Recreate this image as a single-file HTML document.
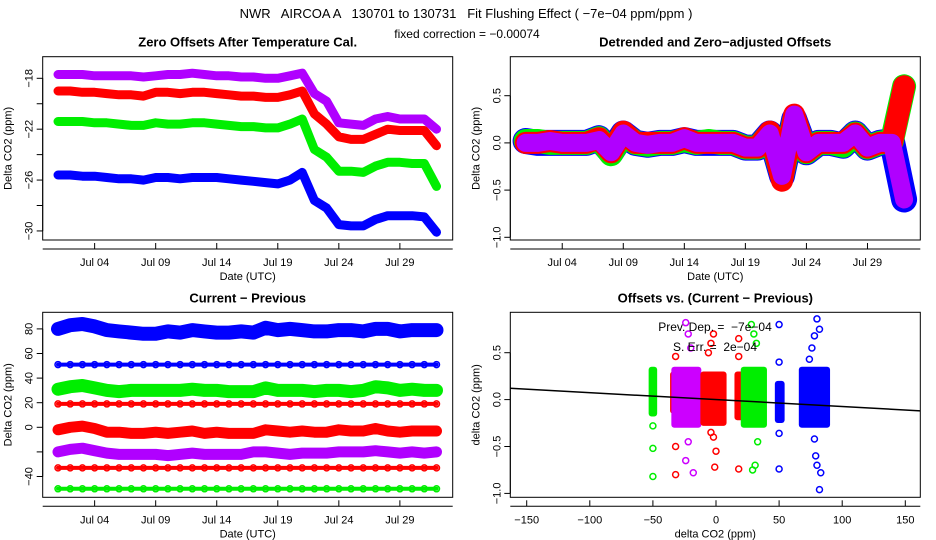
<!DOCTYPE html>
<html><head><meta charset="utf-8">
<style>
html,body{margin:0;padding:0;background:#fff;}
svg{display:block;font-family:"Liberation Sans",Arial,sans-serif;}
svg text{white-space:pre;}
</style></head>
<body>
<svg id="chart" width="936" height="540" viewBox="0 0 936 540">
<text x="466" y="18" font-size="13" text-anchor="middle" xml:space="preserve">NWR   AIRCOA A   130701 to 130731   Fit Flushing Effect ( −7e−04 ppm/ppm )</text>
<text x="467" y="38" font-size="12" text-anchor="middle">fixed correction = −0.00074</text>
</svg>
<script>
// ---------- data ----------
const days = [0,1,2,3,4,5,6,7,8,9,10,11,12,13,14,15,16,17,18,19,20,21,22,23,24,25,26,27,28,29,30,31];
const dayTicks = [3,8,13,18,23,28];
const dayTickLabels = ["Jul 04","Jul 09","Jul 14","Jul 19","Jul 24","Jul 29"];

// Panel 1: zero offsets
const p1Purple = [-17.7,-17.7,-17.7,-17.8,-17.8,-17.8,-17.8,-17.9,-17.8,-17.7,-17.7,-17.6,-17.7,-17.8,-17.8,-17.9,-17.9,-18.0,-18.0,-17.8,-17.6,-19.2,-19.8,-21.5,-21.6,-21.7,-21.2,-21.0,-21.2,-21.2,-21.2,-22.0];
const p1Red = [-19.0,-19.0,-19.1,-19.1,-19.2,-19.3,-19.3,-19.4,-19.1,-19.1,-19.2,-19.1,-19.1,-19.2,-19.3,-19.4,-19.4,-19.5,-19.5,-19.3,-19.0,-20.8,-21.6,-22.6,-22.8,-22.8,-22.4,-22.0,-22.1,-22.1,-22.1,-23.3];
const p1Green = [-21.4,-21.4,-21.4,-21.5,-21.5,-21.6,-21.7,-21.7,-21.5,-21.6,-21.6,-21.5,-21.5,-21.6,-21.7,-21.8,-21.8,-21.9,-21.9,-21.6,-21.2,-23.6,-24.2,-25.3,-25.3,-25.4,-24.9,-24.6,-24.6,-24.7,-24.7,-26.5];
const p1Blue = [-25.6,-25.6,-25.7,-25.7,-25.8,-25.9,-25.9,-26.0,-25.8,-25.8,-25.9,-25.8,-25.8,-25.8,-25.9,-26.0,-26.1,-26.2,-26.3,-26.0,-25.4,-27.6,-28.2,-29.5,-29.6,-29.6,-29.1,-28.8,-28.8,-28.8,-28.9,-30.1];
const p1YTicks = [-18,-20,-22,-24,-26,-28,-30];
const p1YLabels = ["-18","","-22","","-26","","-30"];

// Panel 2: detrended offsets
const p2Blue   = [0.02,0.0,0.0,0.0,0.0,0.0,0.05,-0.1,0.1,0.0,-0.02,0.0,0.0,0.03,0.0,0.0,0.0,0.0,-0.05,-0.05,0.1,-0.35,0.25,-0.1,0.0,0.0,-0.03,0.1,-0.05,0.0,0.02,-0.6];
const p2Green  = [0.02,0.02,0.0,0.0,0.0,0.0,0.05,-0.12,0.1,0.0,-0.02,0.0,0.0,0.03,0.0,0.02,0.0,0.0,-0.05,-0.05,0.1,-0.35,0.25,-0.1,0.0,0.0,-0.03,0.1,-0.05,0.0,0.02,0.6];
const p2Red    = [0.0,0.0,0.02,0.0,0.0,0.0,0.05,-0.1,0.12,0.0,0.0,0.0,0.0,0.05,0.0,0.0,0.0,0.0,-0.05,-0.05,0.12,-0.4,0.3,-0.1,0.0,0.0,0.0,0.1,-0.05,0.0,0.0,0.6];
const p2Purple = [0.0,0.0,0.02,0.0,0.0,0.0,0.03,-0.1,0.1,0.0,-0.02,0.0,0.0,0.05,0.0,0.0,0.0,0.0,-0.05,-0.05,0.1,-0.35,0.3,-0.1,0.0,0.0,0.0,0.1,-0.05,0.0,0.0,-0.6];
const p2YTicks = [-1.0,-0.5,0.0,0.5];
const p2YLabels = ["-1.0","-0.5","0.0","0.5"];

// Panel 3: current - previous
const p3Blue80 = [80,83,84,82,79,78,77,76,76,78,77,79,78,77,77,78,77,81,79,80,79,78,78,79,79,78,80,80,78,79,79,79];
const p3Blue51 = [51,51,51,51,51,51,51,51,51,51,51,51,51,51,51,51,51,51,51,51,51,51,51,51,51,51,51,51,51,51,51,51];
const p3Green31 = [31,33,34,32,30,29,30,30,30,30,30,31,30,30,29,29,29,32,30,30,30,29,30,30,29,30,33,32,30,31,30,30];
const p3Red19 = [19,19,19,19,19,19,19,19,19,19,19,19,19,19,19,19,19,19,19,19,19,19,19,19,19,19,19,19,19,19,19,19];
const p3Red0 = [-2,0,1,-1,-4,-4,-5,-5,-4,-5,-4,-3,-5,-4,-5,-5,-5,-2,-3,-4,-3,-4,-4,-2,-3,-3,-1,-3,-4,-3,-3,-3];
const p3Purple = [-20,-18,-17,-19,-21,-22,-22,-22,-22,-23,-22,-21,-22,-22,-22,-22,-20,-20,-21,-22,-21,-21,-21,-20,-20,-20,-19,-20,-21,-20,-21,-20];
const p3Red33 = [-33,-33,-33,-33,-33,-33,-33,-33,-33,-33,-33,-33,-33,-33,-33,-33,-33,-33,-33,-33,-33,-33,-33,-33,-33,-33,-33,-33,-33,-33,-33,-33];
const p3Green50 = [-50,-50,-50,-50,-50,-50,-50,-50,-50,-50,-50,-50,-50,-50,-50,-50,-50,-50,-50,-50,-50,-50,-50,-50,-50,-50,-50,-50,-50,-50,-50,-50];
const p3YTicks = [-40,-20,0,20,40,60,80];
const p3YLabels = ["-40","","0","20","40","60","80"];

// Panel 4: offsets vs (current - previous) clusters: [xmin,xmax,ymin,ymax]
const p4ClusterColor = ["#00ee00","#ff0000","#cc00ff","#ff0000","#ff0000","#00ee00","#0000ff","#0000ff"];
const p4ClusterXMin = [-51,-34,-33,-10,17,22,49,68];
const p4ClusterXMax = [-49,-30,-14,6,21,38,52,88];
const p4ClusterYMin = [-0.18,-0.15,-0.3,-0.28,-0.22,-0.3,-0.25,-0.3];
const p4ClusterYMax = [0.35,0.3,0.35,0.3,0.3,0.35,0.2,0.35];
const p4OutX = [-50,-50,-50,-32,-32,-32,-24,-22,-20,-22,-24,-18,-2,-4,-6,-2,0,-1,-4,18,18,18,28,30,32,33,31,29,50,50,50,50,80,82,78,76,74,79,80,83,82,78];
const p4OutY = [-0.28,-0.52,-0.82,0.46,-0.5,-0.8,0.82,0.7,0.55,-0.45,-0.65,-0.78,0.7,0.6,0.5,-0.4,-0.55,-0.72,-0.35,0.65,0.46,-0.74,0.8,0.7,0.6,-0.45,-0.7,-0.75,0.8,0.4,-0.36,-0.74,0.86,0.75,0.68,0.55,0.43,-0.6,-0.7,-0.78,-0.96,-0.42];
const p4OutColor = ["#00ee00","#00ee00","#00ee00","#ff0000","#ff0000","#ff0000","#cc00ff","#cc00ff","#cc00ff","#cc00ff","#cc00ff","#cc00ff","#ff0000","#ff0000","#ff0000","#ff0000","#ff0000","#ff0000","#ff0000","#ff0000","#ff0000","#ff0000","#00ee00","#00ee00","#00ee00","#00ee00","#00ee00","#00ee00","#0000ff","#0000ff","#0000ff","#0000ff","#0000ff","#0000ff","#0000ff","#0000ff","#0000ff","#0000ff","#0000ff","#0000ff","#0000ff","#0000ff"];
const p4Slope = -0.00074;
const p4Intercept = 0.0;
const p4XTicks = [-150,-100,-50,0,50,100,150];
const p4YTicks = [-1.0,-0.5,0.0,0.5];
const p4YLabels = ["-1.0","-0.5","0.0","0.5"];

// ---------- drawing ----------
const svg = document.getElementById('chart');
const NS = 'http://www.w3.org/2000/svg';
function mk(tag, attrs, parent){ const e=document.createElementNS(NS,tag); for(const k in attrs) e.setAttribute(k,attrs[k]); (parent||svg).appendChild(e); return e; }

const panels = [
 {x0:42.7,x1:452.7,y0:56.7,y1:240,title:"Zero Offsets After Temperature Cal.",xl:"Date (UTC)",yl:"Delta CO2 (ppm)"},
 {x0:510.3,x1:920.3,y0:56.7,y1:240,title:"Detrended and Zero−adjusted Offsets",xl:"Date (UTC)",yl:"Delta CO2 (ppm)"},
 {x0:42.7,x1:452.7,y0:312.3,y1:497.3,title:"Current − Previous",xl:"Date (UTC)",yl:"Delta CO2 (ppm)"},
 {x0:510.3,x1:920.3,y0:312.3,y1:497.3,title:"Offsets vs. (Current − Previous)",xl:"delta CO2 (ppm)",yl:"delta CO2 (ppm)"}
];
const xDay1 = d => 58 + d*12.21;
const xDay2 = d => 58 + 467.6 + d*12.21;
const y1 = v => 78.3 + (-18 - v)*12.72;
const y2 = v => 142.9 - v*94.4;
const y3 = v => 427.3 - v*1.23;
const x4 = v => 716 + v*1.262;
const y4 = v => 399.6 - v*93.8;

panels.forEach((p,i)=>{
  const g = mk('g',{});
  
  
  const t = mk('text',{x:(p.x0+p.x1)/2,y:p.y0-10,'font-size':13,'font-weight':'bold','text-anchor':'middle'},g);
  t.textContent = p.title;
  
  
  const xl = mk('text',{x:(p.x0+p.x1)/2,y:p.y1+40,'font-size':11,'text-anchor':'middle'},g);
  xl.textContent = p.xl;
  
  
  const cy=(p.y0+p.y1)/2, cx=p.x0-31;
  const yl = mk('text',{x:cx,y:cy,'font-size':11,'text-anchor':'middle',transform:`rotate(-90 ${cx} ${cy})`},g);
  yl.textContent = p.yl;
  
  
  p.g = g;
});

function yAxis(p, ticks, labels, fy){
  mk('line',{x1:p.x0,y1:fy(ticks[0]),x2:p.x0,y2:fy(ticks[ticks.length-1]),stroke:'#000'},p.g);
  ticks.forEach((v,i)=>{
    const y=fy(v);
    const tk = mk('line',{x1:p.x0-6,y1:y,x2:p.x0,y2:y,stroke:'#000'},p.g);
    
    
    if(labels[i]){
      const t=mk('text',{x:p.x0-10,y:y,'font-size':11,'text-anchor':'middle',transform:`rotate(-90 ${p.x0-10} ${y})`},p.g);
      t.textContent=labels[i].replace('-','−');
      
      
    }
  });
}
function xAxis(p, ticks, labels, fx){
  const ya = p.y1+9;
  mk('line',{x1:p.x0,y1:ya,x2:p.x1,y2:ya,stroke:'#000'},p.g);
  ticks.forEach((v,i)=>{
    const x=fx(v);
    const tk = mk('line',{x1:x,y1:ya-6,x2:x,y2:ya,stroke:'#000'},p.g);
    
    
    const t=mk('text',{x:x,y:ya+17,'font-size':11,'text-anchor':'middle'},p.g);
    t.textContent=labels[i];
    
    
  });
}
function band(p, vals, fx, fy, color, w, name){
  const pts = days.map((d,i)=>fx(d).toFixed(1)+','+fy(vals[i]).toFixed(1)).join(' ');
  const pl = mk('polyline',{points:pts,fill:'none',stroke:color,'stroke-width':w,'stroke-linejoin':'round','stroke-linecap':'round'},p.g);
  
  
  days.forEach((d,i)=>{
    const c = mk('circle',{cx:fx(d),cy:fy(vals[i]),r:3,fill:'none',stroke:color,'stroke-width':1.5},p.g);
    
    
  });
}
function clip(p){
  const id='clip'+Math.round(p.x0)+'_'+Math.round(p.y0);
  const cp = mk('clipPath',{id:id},svg);
  mk('rect',{x:p.x0,y:p.y0,width:p.x1-p.x0,height:p.y1-p.y0},cp);
  const g = mk('g',{'clip-path':`url(#${id})`},p.g);
  
  
  return {g:g};
}
function frame(p){
  const r = mk('rect',{x:p.x0,y:p.y0,width:p.x1-p.x0,height:p.y1-p.y0,fill:'none',stroke:'#000'},p.g);
  
  
}

// Panel 1
{
  const p=panels[0]; const c=clip(p);
  band(c,p1Blue,xDay1,y1,'#0000ff',9,'blue-series');
  band(c,p1Green,xDay1,y1,'#00ee00',9,'green-series');
  band(c,p1Red,xDay1,y1,'#ff0000',9,'red-series');
  band(c,p1Purple,xDay1,y1,'#b000ff',9,'purple-series');
  frame(p); yAxis(p,p1YTicks,p1YLabels,y1); xAxis(p,dayTicks,dayTickLabels,xDay1);
}
// Panel 2
{
  const p=panels[1]; const c=clip(p);
  band(c,p2Blue,xDay2,y2,'#0000ff',26,'blue-series');
  band(c,p2Green,xDay2,y2,'#00ee00',24,'green-series');
  band(c,p2Red,xDay2,y2,'#ff0000',22,'red-series');
  band(c,p2Purple,xDay2,y2,'#b000ff',18,'purple-series');
  frame(p); yAxis(p,p2YTicks,p2YLabels,y2); xAxis(p,dayTicks,dayTickLabels,xDay2);
}
// Panel 3
{
  const p=panels[2]; const c=clip(p);
  band(c,p3Blue80,xDay1,y3,'#0000ff',14,'blue-80-series');
  band(c,p3Blue51,xDay1,y3,'#0000ff',4,'blue-51-series');
  band(c,p3Green31,xDay1,y3,'#00ee00',13,'green-31-series');
  band(c,p3Red19,xDay1,y3,'#ff0000',4,'red-19-series');
  band(c,p3Red0,xDay1,y3,'#ff0000',11,'red-0-series');
  band(c,p3Purple,xDay1,y3,'#b000ff',11,'purple-series');
  band(c,p3Red33,xDay1,y3,'#ff0000',4,'red-33-series');
  band(c,p3Green50,xDay1,y3,'#00ee00',4,'green-50-series');
  frame(p); yAxis(p,p3YTicks,p3YLabels,y3); xAxis(p,dayTicks,dayTickLabels,xDay1);
}
// Panel 4
{
  const p=panels[3]; const c=clip(p);
  p4ClusterXMin.forEach((xm,i)=>{
    const r = mk('rect',{x:x4(xm)-3,y:y4(p4ClusterYMax[i]),width:x4(p4ClusterXMax[i])-x4(xm)+6,height:y4(p4ClusterYMin[i])-y4(p4ClusterYMax[i]),rx:3,fill:p4ClusterColor[i]},c.g);
    
    
  });
  p4OutX.forEach((xv,i)=>{
    const cc = mk('circle',{cx:x4(xv),cy:y4(p4OutY[i]),r:3,fill:'none',stroke:p4OutColor[i],'stroke-width':1.5},c.g);
    
    
  });
  const ln = mk('line',{x1:x4(-170),y1:y4(p4Intercept+p4Slope*-170),x2:x4(170),y2:y4(p4Intercept+p4Slope*170),stroke:'#000','stroke-width':1.5},c.g);
  
  
  const t1 = mk('text',{x:715,y:331,'font-size':12,'text-anchor':'middle','xml:space':'preserve'},p.g);
  t1.textContent='Prev. Dep. =  −7e−04';
  
  
  const t2 = mk('text',{x:715,y:351,'font-size':12,'text-anchor':'middle'},p.g);
  t2.textContent='S. Err. =  2e−04';
  
  
  frame(p); yAxis(p,p4YTicks,p4YLabels,y4);
  xAxis(p,p4XTicks,p4XTicks.map(v=>String(v).replace('-','−')),x4);
}
</script>
</body></html>
